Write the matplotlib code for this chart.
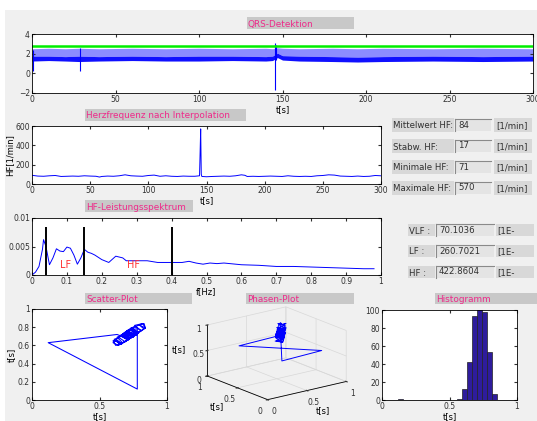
import matplotlib
matplotlib.use('Agg')
import matplotlib.pyplot as plt
from matplotlib.patches import Rectangle
from matplotlib.lines import Line2D

# ---- data ----
# QRS trace, given as an envelope (dense ECG band)
ecg_t = [0, 10, 20, 28, 40, 60, 80, 100, 120, 140, 144, 147, 150, 160, 180, 195, 210, 240, 270, 300]
ecg_peak = [2.5, 2.55, 2.5, 2.55, 2.5, 2.55, 2.5, 2.55, 2.5, 2.55, 2.5, 2.6, 2.55, 2.5, 2.55, 2.5, 2.55, 2.5, 2.55, 2.5]
ecg_mid = [1.75, 1.75, 1.7, 1.75, 1.7, 1.75, 1.7, 1.75, 1.75, 1.7, 1.75, 2.05, 1.8, 1.75, 1.7, 1.65, 1.7, 1.75, 1.7, 1.75]
ecg_low = [1.25, 1.3, 1.25, 1.2, 1.25, 1.3, 1.25, 1.25, 1.3, 1.25, 1.3, 1.6, 1.35, 1.25, 1.2, 1.15, 1.2, 1.25, 1.2, 1.25]
art_t = [0.3, 28.5, 145.3, 146.0]
art_lo = [0.2, 0.2, -1.7, 1.4]
art_hi = [2.4, 2.6, 3.1, 2.9]
threshold = 2.8

# heart rate after interpolation
hf_t = [0, 5, 10, 15, 20, 25, 30, 35, 40, 45, 50, 55, 58, 60, 65, 70, 75, 80, 85, 90, 95,
        100, 105, 110, 115, 120, 125, 130, 135, 140, 144, 144.5, 145, 145.5, 146, 150, 155,
        160, 165, 170, 175, 180, 183, 185, 190, 195, 200, 205, 210, 215, 220, 225, 230, 235,
        240, 245, 250, 255, 260, 265, 270, 275, 280, 285, 290, 295, 300]
hf_v = [90, 82, 80, 85, 88, 78, 80, 82, 80, 85, 82, 80, 72, 78, 82, 80, 85, 95, 85, 82, 80,
        88, 92, 80, 85, 80, 78, 82, 80, 80, 85, 320, 570, 100, 78, 75, 78,
        80, 82, 80, 85, 95, 90, 78, 80, 78, 80, 82, 80, 78, 85, 80, 78, 80,
        78, 85, 88, 95, 92, 82, 80, 78, 82, 78, 80, 88, 85]

# power spectrum
f_hz = [0, 0.01, 0.02, 0.03, 0.033, 0.04, 0.05, 0.06, 0.07, 0.08, 0.09, 0.1, 0.11, 0.12, 0.13,
        0.14, 0.15, 0.16, 0.17, 0.18, 0.2, 0.22, 0.24, 0.26, 0.27, 0.3, 0.33, 0.36, 0.4, 0.43,
        0.45, 0.47, 0.49, 0.51, 0.53, 0.55, 0.6, 0.65, 0.7, 0.75, 0.8, 0.85, 0.9, 0.95, 0.98]
psd = [0, 0.0005, 0.0015, 0.0045, 0.0062, 0.005, 0.0018, 0.003, 0.0046, 0.0042, 0.0041, 0.0049,
       0.0047, 0.0035, 0.0019, 0.003, 0.0045, 0.004, 0.0038, 0.0035, 0.0027, 0.0022, 0.0033,
       0.003, 0.0025, 0.0025, 0.0025, 0.0022, 0.0022, 0.0022, 0.0024, 0.0021, 0.0019, 0.0021,
       0.002, 0.0021, 0.0018, 0.0017, 0.0015, 0.0015, 0.0014, 0.0013, 0.0012, 0.0011, 0.0011]
band_edges = [0.04, 0.15, 0.4]

# RR intervals (excerpt) for scatter / phase plot
rr = [0.70, 0.75, 0.70, 0.76, 0.71, 0.66, 0.72, 0.67, 0.63, 0.69, 0.73, 0.78, 0.73, 0.79,
      0.74, 0.69, 0.75, 0.70, 0.65, 0.61, 0.67, 0.62, 0.60, 0.65, 0.70, 0.75, 0.70, 0.76,
      0.81, 0.76, 0.82, 0.84, 0.79, 0.83, 0.78, 0.73, 0.78, 0.72, 0.68, 0.74, 0.70, 0.76,
      0.72, 0.67, 0.72, 0.76, 0.78, 0.78, 0.12, 0.63, 0.72, 0.67, 0.73, 0.69, 0.64, 0.60,
      0.63, 0.66, 0.61, 0.66, 0.70, 0.75, 0.69, 0.74, 0.79, 0.73, 0.77, 0.71, 0.76, 0.80,
      0.83, 0.84, 0.79, 0.75, 0.70, 0.76, 0.71, 0.66, 0.71, 0.66, 0.70, 0.75, 0.69, 0.74,
      0.79, 0.74, 0.69, 0.64, 0.69, 0.74, 0.77, 0.72]

# histogram of RR intervals
hist_c = [0.136, 0.571, 0.608, 0.646, 0.683, 0.720, 0.757, 0.795, 0.830]
hist_n = [1, 1, 12, 42, 93, 101, 98, 53, 7]
hist_w = 0.037

hf_labels = ['Mittelwert HF:', 'Stabw. HF:', 'Minimale HF:', 'Maximale HF:']
hf_values = ['84', '17', '71', '570']
band_labels = ['VLF :', 'LF :', 'HF :']
band_values = ['70.1036', '260.7021', '422.8604']

W, H = 537, 421
BG = '#f0f0f0'
PINK = '#ee2a8a'
TXT = '#303030'

plt.rcParams['font.family'] = 'DejaVu Sans'
plt.rcParams['font.size'] = 5.5
plt.rcParams['xtick.direction'] = 'in'
plt.rcParams['ytick.direction'] = 'in'
plt.rcParams['xtick.top'] = True
plt.rcParams['ytick.right'] = True
plt.rcParams['xtick.major.size'] = 2.5
plt.rcParams['ytick.major.size'] = 2.5
plt.rcParams['xtick.major.pad'] = 1.5
plt.rcParams['ytick.major.pad'] = 1.5
plt.rcParams['xtick.color'] = TXT
plt.rcParams['ytick.color'] = TXT
plt.rcParams['axes.linewidth'] = 0.6
plt.rcParams['axes.labelpad'] = 1

fig = plt.figure(figsize=(W / 100, H / 100), dpi=100, facecolor='white')


def rect(l, t, r, b, fc, ec='none', lw=0.8, z=1):
    fig.add_artist(Rectangle((l / W, 1 - b / H), (r - l) / W, (b - t) / H,
                             transform=fig.transFigure, facecolor=fc, edgecolor=ec,
                             lw=lw, zorder=z))


def line(x0, y0, x1, y1, c):
    fig.add_artist(Line2D([x0 / W, x1 / W], [1 - y0 / H, 1 - y1 / H],
                          transform=fig.transFigure, color=c, lw=0.8))


def text(x, y, s, **kw):
    fig.text(x / W, 1 - y / H, s, va='center_baseline', ha='left', **kw)


def axes_px(l, t, r, b, **kw):
    return fig.add_axes([l / W, 1 - b / H, (r - l) / W, (b - t) / H], **kw)


def title_box(l, t, r, b, s):
    rect(l, t, r, b, '#c8c8c8')
    text(l + 1, (t + b) / 2, s, color=PINK, fontsize=6.4)


def edit_box(l, t, r, b, s):
    rect(l, t, r, b, '#e4e4e4')
    line(l, t, r, t, '#8a8a8a')
    line(l, t, l, b, '#8a8a8a')
    text(l + 3, (t + b) / 2 - 1, s, color=TXT, fontsize=6.2)


# panel background (behind the axes)
rect(5, 10, W, H, BG, z=-10)

# ---- QRS-Detektion ----
title_box(247, 17, 354, 29, 'QRS-Detektion')
ax1 = axes_px(32, 34, 533, 93)
ax1.fill_between(ecg_t, ecg_mid, ecg_peak, color='#8c8cff', lw=0)
ax1.fill_between(ecg_t, ecg_low, ecg_mid, color='#1010ff', lw=0)
ax1.vlines(art_t, art_lo, art_hi, color='blue', lw=0.8)
ax1.axhline(threshold, color='#00ee00', lw=1.8)
ax1.set_xlim(0, 300)
ax1.set_ylim(-2, 4)
ax1.set_yticks([-2, 0, 2, 4])
ax1.set_xlabel('t[s]', fontsize=6)

# ---- Herzfrequenz ----
title_box(85, 109, 246, 121, 'Herzfrequenz nach Interpolation')
ax2 = axes_px(32, 126, 381, 184)
ax2.plot(hf_t, hf_v, color='blue', lw=0.7)
ax2.set_xlim(0, 300)
ax2.set_ylim(0, 600)
ax2.set_yticks([0, 200, 400, 600])
ax2.set_xlabel('t[s]', fontsize=6)
ax2.set_ylabel('HF[1/min]', fontsize=6)

for i, (lab, val) in enumerate(zip(hf_labels, hf_values)):
    yc = 125 + 21 * i
    rect(392, yc - 7, 454, yc + 7, '#d8d8d8')
    text(393, yc, lab, color=TXT, fontsize=6.2)
    edit_box(455, yc - 6, 491, yc + 6, val)
    rect(494, yc - 7, 532, yc + 7, '#d8d8d8')
    text(496, yc, '[1/min]', color=TXT, fontsize=6.2)

# ---- Spektrum ----
title_box(85, 200, 193, 212, 'HF-Leistungsspektrum')
ax3 = axes_px(32, 218, 381, 275)
ax3.plot(f_hz, psd, color='blue', lw=0.7)
ax3.vlines(band_edges, 0, 0.0085, color='black', lw=1.4)
ax3.text(0.095, 0.0017, 'LF', color='#ff3030', fontsize=7, ha='center', va='center')
ax3.text(0.29, 0.0017, 'HF', color='#ff3030', fontsize=7, ha='center', va='center')
ax3.set_xlim(0, 1)
ax3.set_ylim(0, 0.01)
ax3.set_xticks([i / 10 for i in range(11)])
ax3.set_xticklabels(['0', '0.1', '0.2', '0.3', '0.4', '0.5', '0.6', '0.7', '0.8', '0.9', '1'])
ax3.set_yticks([0, 0.005, 0.01])
ax3.set_yticklabels(['0', '0.005', '0.01'])
ax3.set_xlabel('f[Hz]', fontsize=6)

for i, (lab, val) in enumerate(zip(band_labels, band_values)):
    yc = 230 + 21 * i
    rect(408, yc - 6, 435, yc + 6, '#d8d8d8')
    text(409, yc, lab, color=TXT, fontsize=6.2)
    edit_box(436, yc - 6, 494, yc + 6, val)
    rect(496, yc - 6, 534, yc + 6, '#d8d8d8')
    text(497, yc, '[1E-', color=TXT, fontsize=6.2)

# ---- Scatter-Plot ----
title_box(85, 293, 192, 304, 'Scatter-Plot')
ax4 = axes_px(32, 309, 167, 400)
ax4.plot(rr[:-1], rr[1:], color='blue', lw=0.75)
ax4.set_xlim(0, 1)
ax4.set_ylim(0, 1)
ax4.set_xticks([0, 0.5, 1])
ax4.set_xticklabels(['0', '0.5', '1'])
ax4.set_yticks([0, 0.2, 0.4, 0.6, 0.8, 1])
ax4.set_yticklabels(['0', '0.2', '0.4', '0.6', '0.8', '1'])
ax4.set_xlabel('t[s]', fontsize=6)
ax4.set_ylabel('t[s]', fontsize=6)

# ---- Phasen-Plot ----
title_box(246, 293, 354, 304, 'Phasen-Plot')
ax5 = axes_px(180, 290, 370, 420, projection='3d', proj_type='ortho')
ax5.set_facecolor('none')
ax5.plot(rr[:-2], rr[1:-1], rr[2:], color='blue', lw=0.7)
ax5.view_init(elev=17.5, azim=-127.5)
ax5.set_box_aspect((1, 1, 0.54), zoom=1.12)
ax5.set_xlim(0, 1)
ax5.set_ylim(0, 1)
ax5.set_zlim(0, 1)
for a in (ax5.xaxis, ax5.yaxis, ax5.zaxis):
    a.set_pane_color((1, 1, 1, 0))
    a._axinfo['grid']['color'] = '#d8d8d8'
    a._axinfo['grid']['linewidth'] = 0.5
    a.line.set_linewidth(0.6)
ax5.set_xticks([0, 0.5, 1])
ax5.set_yticks([0, 0.5, 1])
ax5.set_zticks([0, 0.5, 1])
ax5.set_xticklabels(['0', '0.5', '1'])
ax5.set_yticklabels(['0', '0.5', '1'])
ax5.set_zticklabels(['0', '0.5', '1'])
ax5.set_xlabel('t[s]', fontsize=6, labelpad=-8)
ax5.set_ylabel('t[s]', fontsize=6, labelpad=-8)
ax5.set_zlabel('t[s]', fontsize=6, labelpad=-11)
ax5.tick_params(axis='x', pad=-3)
ax5.tick_params(axis='y', pad=-3)
ax5.tick_params(axis='z', pad=-5)

# ---- Histogramm ----
title_box(435, 293, 537, 304, 'Histogramm')
ax6 = axes_px(382, 310, 517, 400)
ax6.bar(hist_c, hist_n, width=hist_w, color='#2e1c9c', edgecolor='#222222', lw=0.5)
ax6.set_xlim(0, 1)
ax6.set_ylim(0, 100)
ax6.set_xticks([0, 0.5, 1])
ax6.set_xticklabels(['0', '0.5', '1'])
ax6.set_yticks([0, 20, 40, 60, 80, 100])
ax6.set_xlabel('t[s]', fontsize=6)

fig.savefig('out.png', dpi=100, facecolor='white')
